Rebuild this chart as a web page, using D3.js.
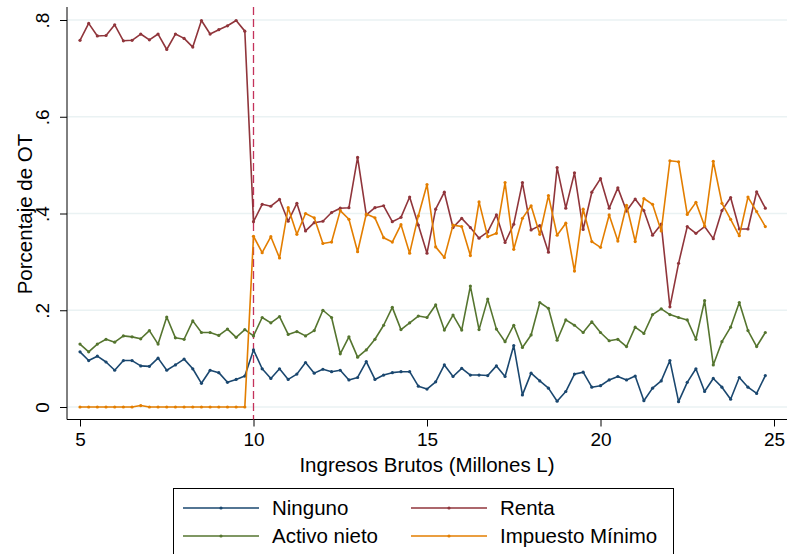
<!DOCTYPE html>
<html><head><meta charset="utf-8">
<script src="https://cdn.jsdelivr.net/npm/d3@7"></script>
<style>body{margin:0;background:#fff}svg{display:block;font-family:"Liberation Sans",Arial,Helvetica,sans-serif}</style>
</head><body>
<script>
const xStart = 5, xStep = 0.25;
const xTicks = [5, 10, 15, 20, 25];
const yTicks = [0, 0.2, 0.4, 0.6, 0.8];
const yTickLabels = ["0", ".2", ".4", ".6", ".8"];
const cutoff = 10;
const seriesNames = ["Ninguno", "Renta", "Activo nieto", "Impuesto Mínimo"];
const ninguno = [0.114,0.096,0.105,0.093,0.076,0.096,0.096,0.085,0.084,0.101,0.076,0.087,0.099,0.079,0.049,0.076,0.071,0.051,0.057,0.064,
 0.118,0.079,0.059,0.079,0.057,0.068,0.092,0.070,0.078,0.073,0.076,0.056,0.061,0.094,0.057,0.066,0.071,0.073,0.073,
 0.043,0.037,0.052,0.087,0.063,0.080,0.066,0.066,0.065,0.085,0.063,0.127,0.025,0.070,0.054,0.039,0.012,0.032,0.068,
 0.072,0.041,0.044,0.056,0.063,0.056,0.064,0.013,0.039,0.054,0.096,0.011,0.051,0.079,0.032,0.059,0.041,0.016,0.061,0.041,0.028,0.065];
const renta = [0.758,0.793,0.767,0.768,0.790,0.757,0.758,0.771,0.759,0.771,0.739,0.771,0.762,0.744,0.799,0.771,0.780,0.788,0.799,0.777,
 0.383,0.419,0.415,0.429,0.384,0.421,0.364,0.381,0.384,0.402,0.411,0.412,0.516,0.397,0.412,0.416,0.383,0.392,0.434,
 0.376,0.318,0.409,0.444,0.371,0.390,0.371,0.349,0.362,0.397,0.340,0.378,0.464,0.366,0.375,0.320,0.495,0.411,0.484,
 0.367,0.444,0.472,0.411,0.453,0.405,0.430,0.406,0.355,0.378,0.207,0.297,0.373,0.359,0.373,0.348,0.406,0.433,0.368,0.368,0.445,0.411];
const activoNieto = [0.130,0.114,0.130,0.140,0.134,0.147,0.145,0.141,0.158,0.130,0.186,0.143,0.140,0.178,0.154,0.154,0.148,0.161,0.144,0.160,
 0.147,0.185,0.174,0.187,0.150,0.156,0.147,0.158,0.200,0.185,0.110,0.145,0.103,0.118,0.140,0.169,0.206,0.160,0.174,
 0.188,0.185,0.211,0.159,0.190,0.159,0.250,0.160,0.223,0.161,0.135,0.169,0.123,0.149,0.216,0.204,0.138,0.180,0.169,
 0.154,0.176,0.154,0.137,0.140,0.125,0.165,0.152,0.191,0.203,0.191,0.185,0.180,0.140,0.220,0.087,0.135,0.165,0.216,0.158,0.125,0.154];
const impuestoMinimo = [0,0,0,0,0,0,0,0.003,0,0,0,0,0,0,0,0,0,0,0,0,
 0.353,0.319,0.352,0.308,0.412,0.357,0.400,0.391,0.338,0.341,0.406,0.388,0.321,0.399,0.391,0.350,0.341,0.377,0.318,
 0.395,0.460,0.331,0.309,0.376,0.373,0.313,0.424,0.352,0.359,0.464,0.326,0.390,0.416,0.357,0.437,0.355,0.380,0.281,
 0.409,0.342,0.330,0.397,0.343,0.417,0.342,0.431,0.419,0.364,0.509,0.507,0.398,0.423,0.374,0.508,0.421,0.388,0.354,0.434,0.404,0.373];
const colors = ["#1a476f", "#90353b", "#55752f", "#e37e00"];
const allSeries = [ninguno, renta, activoNieto, impuestoMinimo];

const W = 787, H = 554;
const svg = d3.select("body").append("svg").attr("width", W).attr("height", H);
const x = d3.scaleLinear().domain([5, 25]).range([80, 774]);
const y = d3.scaleLinear().domain([0, 0.8]).range([407, 20]);
const plotL = 67, plotR = 787, plotT = 7, plotB = 419.5;

// gridlines
svg.append("g").selectAll("line").data(yTicks).join("line")
  .attr("x1", plotL).attr("x2", plotR).attr("y1", d => y(d)).attr("y2", d => y(d))
  .attr("stroke", "#eaf2f3").attr("stroke-width", 1.5);

// axes
const yAxis = d3.axisLeft(y).tickValues(yTicks).tickFormat((d, i) => yTickLabels[i]).tickSize(7).tickPadding(5);
const gy = svg.append("g").attr("transform", `translate(${plotL},0)`).call(yAxis);
gy.select(".domain").attr("d", `M0,${plotT}V${plotB}`).attr("stroke", "#000");
gy.selectAll(".tick line").attr("stroke", "#000");
gy.selectAll(".tick text").attr("font-size", 19).attr("fill", "#000")
  .attr("text-anchor", "middle").attr("x", -24).attr("dy", 0)
  .attr("transform", "rotate(-90,-24,0) translate(0,6)");

const xAxis = d3.axisBottom(x).tickValues(xTicks).tickFormat(d3.format("d")).tickSize(7).tickPadding(6);
const gx = svg.append("g").attr("transform", `translate(0,${plotB})`).call(xAxis);
gx.select(".domain").attr("d", `M${plotL},0H${plotR}`).attr("stroke", "#000");
gx.selectAll(".tick line").attr("stroke", "#000");
gx.selectAll(".tick text").attr("font-size", 19).attr("fill", "#000");

// titles
svg.append("text").attr("x", 427).attr("y", 472).attr("text-anchor", "middle")
  .attr("font-size", 20.5).text("Ingresos Brutos (Millones L)");
svg.append("text").attr("transform", "translate(32,214) rotate(-90)").attr("text-anchor", "middle")
  .attr("font-size", 20.5).text("Porcentaje de OT");

// cutoff line
svg.append("line").attr("x1", x(cutoff)).attr("x2", x(cutoff)).attr("y1", plotT).attr("y2", plotB)
  .attr("stroke", "#c4325a").attr("stroke-width", 1.3).attr("stroke-dasharray", "8,4");

// series
const line = d3.line().x((d, i) => x(xStart + i * xStep)).y(d => y(d));
allSeries.forEach((vals, k) => {
  const g = svg.append("g");
  g.append("path").datum(vals).attr("d", line).attr("fill", "none")
    .attr("stroke", colors[k]).attr("stroke-width", 1.6).attr("stroke-linejoin", "round");
  g.selectAll("circle").data(vals).join("circle")
    .attr("cx", (d, i) => x(xStart + i * xStep)).attr("cy", d => y(d)).attr("r", 1.6)
    .attr("fill", colors[k]);
});

// legend
const lg = svg.append("g");
lg.append("rect").attr("x", 173.5).attr("y", 488.5).attr("width", 500).attr("height", 80)
  .attr("fill", "#fff").attr("stroke", "#000").attr("stroke-width", 1);
seriesNames.forEach((name, k) => {
  const col = k % 2, row = Math.floor(k / 2);
  const lx = 183 + col * 228, ly = 508 + row * 28;
  lg.append("line").attr("x1", lx).attr("x2", lx + 76).attr("y1", ly).attr("y2", ly)
    .attr("stroke", colors[k]).attr("stroke-width", 1.6);
  lg.append("circle").attr("cx", lx + 38).attr("cy", ly).attr("r", 1.6).attr("fill", colors[k]);
  lg.append("text").attr("x", lx + 89).attr("y", ly + 7).attr("font-size", 20.5).text(name);
});
</script>
</body></html>
